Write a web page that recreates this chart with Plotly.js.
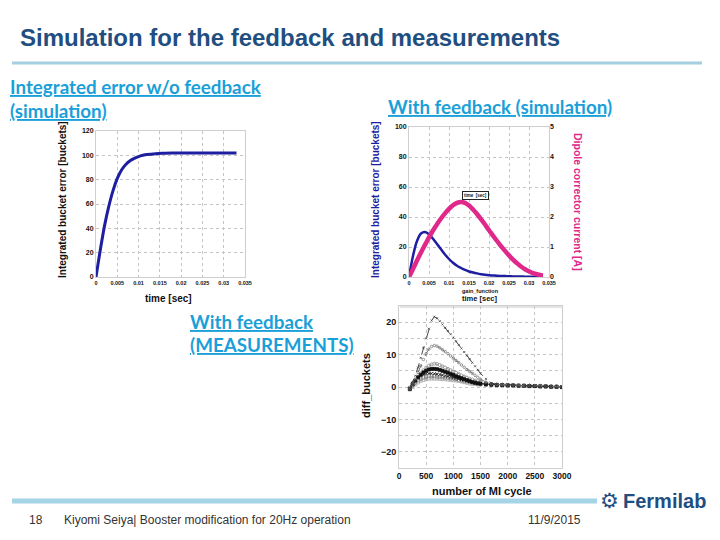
<!DOCTYPE html>
<html>
<head>
<meta charset="utf-8">
<script src="https://cdn.plot.ly/plotly-3.0.1.min.js"></script>
<style>
  html, body { margin: 0; padding: 0; background: #ffffff; }
  #slide { width: 720px; height: 540px; }
</style>
</head>
<body>
<div id="slide"></div>
<script>
// ---- Integrated error without feedback (simulation) ----
const timeNoFb = [0, 0.001, 0.002, 0.003, 0.004, 0.005, 0.006, 0.007, 0.008, 0.009, 0.010, 0.011, 0.012, 0.014, 0.016, 0.018, 0.020, 0.025, 0.030, 0.033];
const errorNoFb = [0, 22, 42, 58, 71, 81, 88, 92.5, 95.5, 97.5, 99, 100, 100.7, 101.4, 101.7, 101.9, 102, 102, 102, 102];

// ---- With feedback (simulation) ----
const timeFb = [0, 0.001, 0.002, 0.003, 0.004, 0.005, 0.006, 0.007, 0.008, 0.009, 0.010, 0.011, 0.012, 0.013, 0.014, 0.015, 0.016, 0.017, 0.018, 0.019, 0.020, 0.021, 0.022, 0.023, 0.024, 0.025, 0.026, 0.027, 0.028, 0.029, 0.030, 0.031, 0.032, 0.033, 0.0335];
const errorFb = [0, 14, 24, 29, 30, 28.5, 25.5, 22, 18.5, 15, 12, 9.5, 7.5, 6, 4.7, 3.7, 3, 2.4, 1.9, 1.5, 1.2, 1, 0.8, 0.7, 0.6, 0.5, 0.4, 0.35, 0.3, 0.25, 0.2, 0.2, 0.15, 0.15, 0.1];
const dipoleCurrent = [0, 0.27, 0.55, 0.82, 1.07, 1.32, 1.55, 1.76, 1.95, 2.12, 2.27, 2.39, 2.47, 2.5, 2.47, 2.38, 2.25, 2.1, 1.93, 1.75, 1.56, 1.38, 1.2, 1.03, 0.87, 0.72, 0.58, 0.46, 0.35, 0.26, 0.19, 0.13, 0.09, 0.06, 0.05];

const timeTicks = [0, 0.005, 0.01, 0.015, 0.02, 0.025, 0.03, 0.035];
const timeTickText = ['0', '0.005', '0.01', '0.015', '0.02', '0.025', '0.03', '0.035'];

// ---- With feedback (measurements) ----
const miCycle = [200, 250, 300, 350, 400, 450, 500, 550, 600, 650, 700, 750, 800, 850, 900, 950, 1000, 1050, 1100, 1150, 1200, 1250, 1300, 1350, 1400, 1450, 1500,
                 1600, 1700, 1800, 1900, 2000, 2100, 2200, 2300, 2400, 2500, 2600, 2700, 2800, 2900, 3000];
const diffRunA = [-0.5, 1.5, 3.5, 6, 9, 12, 15, 18, 20.5, 21.7, 21.2, 20.3, 19.3, 18.3, 17.3, 16.3, 15.2, 14.1, 13, 11.9, 10.8, 9.7, 8.6, 7.5, 6.4, 5.3, 4.2,
                  2.5, 1.2, 0.9, 0.8, 0.7, 0.6, 0.6, 0.5, 0.5, 0.4, 0.4, 0.3, 0.3, 0.2, 0.1];
const diffRunB = [-0.5, 0.8, 2.5, 4.5, 6.5, 8.5, 10.3, 11.7, 12.5, 12.8, 12.6, 12.1, 11.5, 10.9, 10.3, 9.6, 8.9, 8.2, 7.5, 6.8, 6.1, 5.4, 4.8, 4.2, 3.6, 3, 2.4,
                  1.5, 1.0, 0.8, 0.7, 0.6, 0.6, 0.5, 0.5, 0.4, 0.4, 0.3, 0.3, 0.2, 0.2, 0.1];
const diffRunC = [-0.4, 0.5, 1.8, 3, 4.2, 5.2, 6, 6.6, 7, 7.2, 7.1, 6.8, 6.4, 6, 5.6, 5.2, 4.8, 4.4, 4, 3.6, 3.2, 2.9, 2.6, 2.3, 2, 1.8, 1.6,
                  1.2, 0.9, 0.8, 0.7, 0.6, 0.5, 0.5, 0.4, 0.4, 0.3, 0.3, 0.2, 0.2, 0.1, 0.0];
const diffRunD = [-0.6, 0.8, 2, 3, 3.8, 4.5, 5, 5.4, 5.6, 5.6, 5.5, 5.3, 5, 4.7, 4.4, 4, 3.7, 3.3, 3, 2.7, 2.4, 2.1, 1.8, 1.5, 1.3, 1.1, 1,
                  0.8, 0.7, 0.6, 0.6, 0.5, 0.5, 0.4, 0.4, 0.3, 0.3, 0.2, 0.2, 0.1, 0.1, 0.0];
const diffRunE = [-0.3, 1, 2, 2.8, 3.4, 3.8, 4.1, 4.2, 4.2, 4.1, 4, 3.9, 3.7, 3.5, 3.3, 3.1, 2.9, 2.7, 2.5, 2.3, 2.1, 1.9, 1.7, 1.5, 1.3, 1.2, 1.1,
                  0.9, 0.8, 0.7, 0.6, 0.6, 0.5, 0.5, 0.4, 0.3, 0.3, 0.2, 0.2, 0.1, 0.0, -0.1];
const diffRunF = [-0.2, 0.5, 1.3, 2, 2.5, 2.9, 3.1, 3.3, 3.3, 3.3, 3.2, 3.1, 3, 2.9, 2.8, 2.7, 2.6, 2.4, 2.2, 2, 1.8, 1.7, 1.5, 1.4, 1.3, 1.2, 1.1,
                  0.9, 0.8, 0.7, 0.7, 0.6, 0.5, 0.5, 0.4, 0.4, 0.3, 0.3, 0.2, 0.1, 0.1, 0.0];
const diffRunG = [-0.8, 0, 0.8, 1.4, 1.9, 2.2, 2.4, 2.6, 2.6, 2.6, 2.6, 2.5, 2.5, 2.4, 2.3, 2.2, 2.1, 2, 1.9, 1.7, 1.5, 1.3, 1.1, 1, 0.9, 0.8, 0.8,
                  0.7, 0.6, 0.5, 0.5, 0.4, 0.4, 0.3, 0.3, 0.2, 0.2, 0.1, 0.1, 0.0, 0.0, -0.1];

const miTicks = [0, 500, 1000, 1500, 2000, 2500, 3000];
const diffTicks = [-20, -10, 0, 10, 20];

// ---- styling helpers ----
const W = 720, H = 540;
const px = v => v / W;          // pixel x -> paper
const py = v => 1 - v / H;      // pixel y -> paper
const TICKFONT = 'Liberation Sans, Arial, sans-serif';
const HEAD = 'Lato, Open Sans, sans-serif';
const LINK = '#1b9fd8';
const NAVY = '#1f4e80';
const BLUE = '#1e1ea0';
const PINK = '#e0288a';
const GRID = '#c4c4c4';

function simAxis(extra) {
  return Object.assign({
    showgrid: true, gridcolor: GRID, griddash: 'dot', gridwidth: 1,
    zeroline: false, showline: true, mirror: true, linecolor: '#cfcfcf', linewidth: 1,
    ticks: '', tickfont: { family: TICKFONT, size: 7, color: '#111', weight: 'bold' }
  }, extra);
}

const traces = [
  { x: timeNoFb, y: errorNoFb, xaxis: 'x', yaxis: 'y', mode: 'lines',
    line: { color: BLUE, width: 3, shape: 'spline' }, hoverinfo: 'skip' },
  { x: timeFb, y: dipoleCurrent, xaxis: 'x2', yaxis: 'y3', mode: 'lines',
    line: { color: PINK, width: 4.5, shape: 'spline' }, hoverinfo: 'skip' },
  { x: timeFb, y: errorFb, xaxis: 'x2', yaxis: 'y2', mode: 'lines',
    line: { color: BLUE, width: 2.5, shape: 'spline' }, hoverinfo: 'skip' }
];

// measured runs: [values, line colour, dash, marker symbol, marker colour, marker size]
const runs = [
  [diffRunG, '#b0b0b0', 'dot', 'square-open', '#a8a8a8', 3],
  [diffRunF, '#8a8a8a', 'dot', 'diamond-open', '#7a7a7a', 3],
  [diffRunC, '#9a9a9a', 'dot', 'circle-open', '#8c8c8c', 3],
  [diffRunE, '#333333', 'dot', 'x-thin-open', '#222222', 3],
  [diffRunD, '#111111', 'dot', 'square', '#111111', 3],
  [diffRunB, '#666666', 'dash', 'circle-open', '#777777', 2.5],
  [diffRunA, '#333333', 'dash', 'x-thin-open', '#444444', 2]
];
runs.forEach(r => {
  traces.push({
    x: miCycle, y: r[0], xaxis: 'x3', yaxis: 'y4', mode: 'lines+markers',
    line: { color: r[1], width: 0.9, dash: r[2] },
    marker: { symbol: r[3], size: r[5], color: r[4], line: { color: r[4], width: 0.8 } },
    hoverinfo: 'skip'
  });
});

function note(text, x, y, opts) {
  return Object.assign({
    text: text, xref: 'paper', yref: 'paper', x: px(x), y: py(y),
    showarrow: false, xanchor: 'left', yanchor: 'middle'
  }, opts || {});
}
const linkFont = { family: HEAD, size: 18.8, color: LINK, weight: 'bold', lineposition: 'under' };
const titleFont = (size, color) => ({ family: TICKFONT, size: size, color: color || '#111', weight: 'bold' });

const annotations = [
  note('Simulation for the feedback and measurements', 18, 37,
       { font: { family: TICKFONT, size: 24, color: NAVY, weight: 'bold' } }),
  note('Integrated error w/o feedback', 8, 87, { font: linkFont }),
  note('(simulation)', 8, 110, { font: linkFont }),
  note('With feedback (simulation)', 386, 106, { font: linkFont }),
  note('With feedback', 188, 321, { font: linkFont }),
  note('(MEASUREMENTS)', 188, 344, { font: linkFont }),

  note('Integrated bucket error [buckets]', 63, 199, { xanchor: 'center', textangle: -90, font: titleFont(10) }),
  note('time [sec]', 168, 298, { xanchor: 'center', font: titleFont(10) }),

  note('Integrated bucket error [buckets]', 375, 200, { xanchor: 'center', textangle: -90, font: titleFont(10, BLUE) }),
  note('Dipole corrector current [A]', 578, 202, { xanchor: 'center', textangle: 90, font: titleFont(10.5, PINK) }),
  note('gain_function', 480, 290.5, { xanchor: 'center', font: titleFont(5.5) }),
  note('time [sec]', 480, 298.5, { xanchor: 'center', font: titleFont(7.5) }),
  note('time  [sec]', 475, 195, { xanchor: 'center', font: titleFont(4.5),
        bordercolor: '#222', borderwidth: 1, borderpad: 1, bgcolor: '#ffffff' }),

  note('diff_buckets', 366, 386, { xanchor: 'center', textangle: -90, font: titleFont(11) }),
  note('number of MI cycle', 482, 491, { xanchor: 'center', font: titleFont(11) }),

  note('18', 27, 520, { font: { family: TICKFONT, size: 12, color: '#333' } }),
  note('Kiyomi Seiya| Booster modification for 20Hz operation', 62, 520,
       { font: { family: TICKFONT, size: 12, color: '#333' } }),
  note('11/9/2015', 526, 520, { font: { family: TICKFONT, size: 12, color: '#333' } }),
  note('⚙', 598, 501, { font: { family: 'DejaVu Sans', size: 21, color: NAVY } }),
  note('Fermilab', 621, 501, { font: { family: TICKFONT, size: 20, color: NAVY, weight: 'bold' } })
];

const shapes = [
  { type: 'line', xref: 'paper', yref: 'paper', x0: px(12), x1: px(702), y0: py(63), y1: py(63),
    line: { color: '#a4cfe0', width: 3 } },
  { type: 'line', xref: 'paper', yref: 'paper', x0: px(12), x1: px(597), y0: py(501), y1: py(501),
    line: { color: '#a6d4e7', width: 5 } },
  // partial axis strip below the feedback simulation panel
  { type: 'line', xref: 'paper', yref: 'paper', x0: px(400), x1: px(562), y0: py(307), y1: py(307),
    line: { color: '#c8c8c8', width: 1 } }
];

const layout = {
  width: W, height: H,
  margin: { l: 0, r: 0, t: 0, b: 0 },
  paper_bgcolor: '#ffffff', plot_bgcolor: '#ffffff',
  showlegend: false,
  font: { family: TICKFONT },
  xaxis: simAxis({ domain: [px(96), px(245)], range: [0, 0.035], anchor: 'y',
                   tickvals: timeTicks, ticktext: timeTickText,
                   tickfont: { family: TICKFONT, size: 5.5, color: '#111', weight: 'bold' } }),
  yaxis: simAxis({ domain: [py(277), py(131)], range: [0, 120], dtick: 20, anchor: 'x' }),
  xaxis2: simAxis({ domain: [px(409), px(549)], range: [0, 0.035], anchor: 'y2',
                    tickvals: timeTicks, ticktext: timeTickText,
                    tickfont: { family: TICKFONT, size: 5.5, color: '#111', weight: 'bold' } }),
  yaxis2: simAxis({ domain: [py(277), py(127)], range: [0, 100], dtick: 20, anchor: 'x2' }),
  yaxis3: simAxis({ overlaying: 'y2', side: 'right', range: [0, 5], dtick: 1, anchor: 'x2',
                    showgrid: false, showline: false }),
  xaxis3: simAxis({ domain: [px(399), px(562)], range: [0, 3000], anchor: 'y4', tickvals: miTicks,
                    tickfont: { family: TICKFONT, size: 8.5, color: '#111', weight: 'bold' } }),
  yaxis4: simAxis({ domain: [py(468), py(306)], range: [-25, 25], anchor: 'x3', tickvals: diffTicks,
                    minor: { dtick: 5, showgrid: true, gridcolor: GRID, griddash: 'dot' },
                    tickfont: { family: TICKFONT, size: 9, color: '#111', weight: 'bold' } }),
  annotations: annotations,
  shapes: shapes
};

Plotly.newPlot('slide', traces, layout, { staticPlot: true, displayModeBar: false });
</script>
</body>
</html>
